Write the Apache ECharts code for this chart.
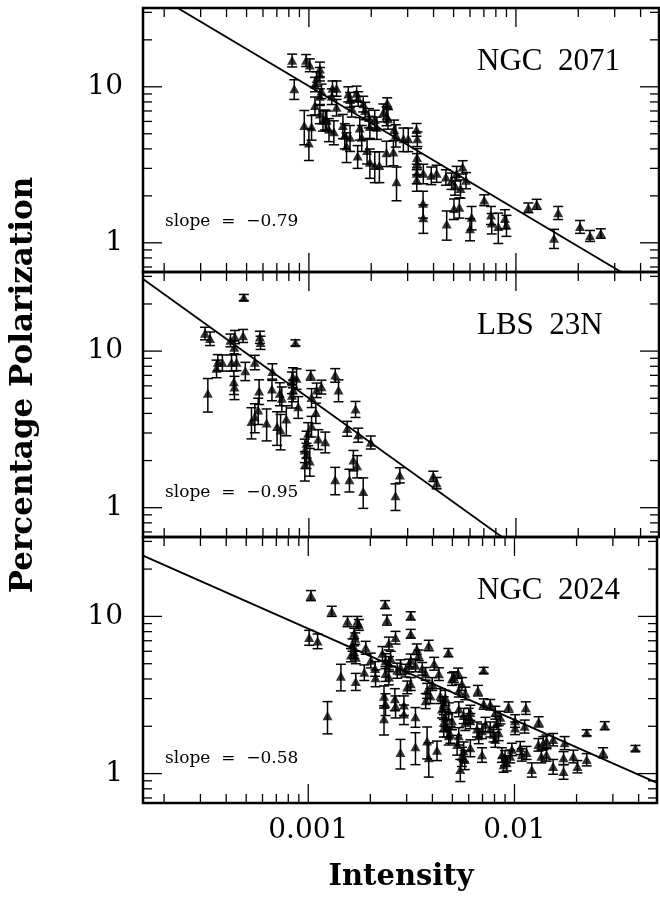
<!DOCTYPE html>
<html>
<head>
<meta charset="utf-8">
<script src="https://cdn.jsdelivr.net/npm/echarts@6/dist/echarts.min.js"></script>
<style>
  html, body { margin: 0; padding: 0; background: #fff; }
  #main { width: 660px; height: 897px; }
</style>
</head>
<body>
<div id="main"></div>
<script>
// [intensity, percentage polarization, error]
const ngc2071 = [
  [0.00083, 14.8, 1.4], [0.00085, 9.7, 1.4], [0.00097, 14.8, 1.3], [0.00101, 13.8, 1.3],
  [0.00113, 13.0, 1.4], [0.00109, 11.3, 1.2], [0.00113, 12.1, 1.2], [0.00107, 10.4, 1.1],
  [0.00115, 9.4, 1.0], [0.00113, 8.7, 1.0], [0.00130, 9.8, 1.1], [0.00136, 9.8, 1.1],
  [0.00129, 8.7, 1.0], [0.00136, 7.4, 0.9], [0.00107, 7.6, 1.0], [0.00113, 6.7, 0.9],
  [0.00120, 6.2, 0.9], [0.00095, 5.65, 1.4], [0.00103, 5.55, 1.0], [0.00100, 4.37, 1.0],
  [0.00117, 6.1, 0.9], [0.00122, 6.1, 0.9], [0.00125, 5.35, 0.9], [0.00132, 5.15, 0.9],
  [0.00146, 5.65, 1.0], [0.00149, 4.9, 0.9], [0.00158, 4.75, 0.9], [0.00152, 4.17, 0.9],
  [0.00155, 9.0, 1.0], [0.00158, 8.3, 0.9], [0.00170, 9.1, 1.0], [0.00173, 8.4, 0.9],
  [0.00161, 7.3, 0.9], [0.00183, 7.8, 0.9], [0.00187, 7.05, 0.9], [0.00176, 5.45, 0.9],
  [0.00180, 4.75, 0.9], [0.00172, 3.6, 0.6], [0.00195, 6.35, 0.9], [0.00197, 5.57, 0.9],
  [0.00208, 6.17, 0.9], [0.00213, 5.5, 0.9], [0.00191, 3.9, 0.7], [0.00197, 3.29, 0.7],
  [0.00208, 3.13, 0.7], [0.00219, 3.13, 0.7], [0.00229, 6.86, 0.9], [0.00237, 6.53, 0.9],
  [0.00239, 7.9, 0.6], [0.00241, 6.25, 0.9], [0.00237, 3.78, 0.7], [0.00256, 3.82, 0.7],
  [0.00265, 2.46, 0.6], [0.00258, 5.32, 0.8], [0.00263, 4.91, 0.8], [0.00286, 4.64, 0.8],
  [0.00302, 4.64, 0.8], [0.00331, 5.32, 0.5], [0.00334, 4.64, 0.5], [0.00333, 3.52, 0.5],
  [0.00333, 3.23, 0.5], [0.00332, 2.79, 0.4], [0.00332, 2.54, 0.4], [0.00357, 2.79, 0.4],
  [0.00390, 2.71, 0.35], [0.00414, 2.79, 0.35], [0.00356, 1.79, 0.35], [0.00357, 1.45, 0.3],
  [0.00463, 1.32, 0.28], [0.00459, 2.64, 0.3], [0.00489, 2.5, 0.3], [0.00508, 2.32, 0.3],
  [0.00540, 2.23, 0.3], [0.00553, 3.06, 0.3], [0.00574, 2.52, 0.3], [0.00517, 2.79, 0.3],
  [0.00502, 1.66, 0.25], [0.00533, 1.69, 0.25], [0.00611, 1.46, 0.25], [0.00600, 1.23, 0.2],
  [0.00703, 1.88, 0.15], [0.00758, 1.51, 0.2], [0.00764, 1.34, 0.2], [0.00822, 1.27, 0.28],
  [0.00885, 1.43, 0.2], [0.00900, 1.30, 0.2], [0.01148, 1.68, 0.12], [0.0126, 1.77, 0.13],
  [0.0160, 1.56, 0.15], [0.01527, 1.07, 0.15], [0.0204, 1.27, 0.12], [0.0228, 1.11, 0.09],
  [0.0257, 1.15, 0.08]
];

const lbs23n = [
  [0.000485, 22.0, 1.0], [0.000315, 13.0, 1.2], [0.000333, 12.05, 1.2], [0.000418, 11.75, 1.1],
  [0.000439, 12.35, 1.2], [0.000481, 12.55, 1.2], [0.000436, 10.6, 1.0], [0.000580, 12.3, 1.1],
  [0.000584, 11.35, 1.1], [0.000861, 11.3, 0.5], [0.000363, 8.5, 1.0], [0.000382, 8.45, 1.0],
  [0.000358, 7.76, 1.0], [0.000423, 8.45, 1.0], [0.000447, 8.5, 1.0], [0.000434, 6.38, 1.1],
  [0.000437, 5.9, 1.0], [0.000493, 7.48, 1.0], [0.000548, 8.5, 0.9], [0.000325, 5.38, 1.3],
  [0.000666, 7.4, 0.9], [0.000663, 5.72, 0.9], [0.000575, 5.56, 1.0], [0.000724, 5.38, 0.9],
  [0.000740, 5.0, 0.9], [0.000837, 6.83, 1.0], [0.000872, 6.7, 1.0], [0.000828, 6.35, 1.0],
  [0.000840, 5.65, 0.9], [0.000828, 5.23, 0.9], [0.00102, 7.03, 0.5], [0.00115, 5.92, 0.6],
  [0.00109, 5.65, 0.6], [0.00103, 5.06, 0.7], [0.00134, 7.03, 0.7], [0.00139, 5.65, 0.9],
  [0.000888, 4.42, 0.7], [0.00108, 4.05, 0.6], [0.000569, 4.2, 0.8], [0.000548, 3.81, 0.8],
  [0.000528, 3.55, 0.8], [0.000625, 3.47, 0.8], [0.000702, 3.3, 0.8], [0.000730, 3.14, 0.8],
  [0.000778, 3.68, 0.8], [0.00103, 3.33, 0.5], [0.000992, 2.99, 0.5], [0.000974, 2.58, 0.5],
  [0.000956, 2.34, 0.4], [0.000974, 2.18, 0.4], [0.00101, 1.99, 0.4], [0.000956, 1.88, 0.4],
  [0.00111, 2.75, 0.4], [0.00120, 2.64, 0.4], [0.00153, 3.21, 0.35], [0.00173, 2.92, 0.3],
  [0.00199, 2.62, 0.25], [0.00168, 4.27, 0.5], [0.00164, 2.02, 0.3], [0.00171, 1.85, 0.3],
  [0.00134, 1.51, 0.3], [0.00157, 1.51, 0.25], [0.00183, 1.27, 0.28], [0.00275, 1.62, 0.18],
  [0.00262, 1.19, 0.23], [0.00399, 1.59, 0.12], [0.00414, 1.44, 0.12]
];

const ngc2024 = [
  [0.00103, 13.6, 1.0], [0.00101, 7.35, 0.8], [0.00111, 6.98, 0.75], [0.00130, 10.8, 0.8],
  [0.00155, 9.3, 0.7], [0.00173, 9.3, 0.7], [0.00176, 8.85, 0.7], [0.00167, 7.8, 0.6],
  [0.00169, 7.25, 0.6], [0.00164, 6.6, 0.6], [0.00167, 5.95, 0.55], [0.00161, 5.69, 0.55],
  [0.00170, 5.5, 0.5], [0.00190, 6.34, 0.6], [0.00187, 4.41, 0.5], [0.00201, 5.27, 0.57],
  [0.00211, 4.66, 0.5], [0.00144, 4.16, 0.8], [0.00170, 3.86, 0.48], [0.00212, 4.07, 0.5],
  [0.00124, 2.33, 0.54], [0.00236, 11.9, 0.7], [0.00241, 9.5, 0.7], [0.00314, 10.1, 0.6],
  [0.00314, 7.77, 0.5], [0.00229, 5.83, 0.6], [0.00237, 5.22, 0.57], [0.00246, 5.0, 0.55],
  [0.00251, 5.41, 0.59], [0.00265, 7.35, 0.68], [0.00246, 6.75, 0.63], [0.00237, 4.33, 0.47],
  [0.00246, 4.12, 0.45], [0.00270, 4.54, 0.5], [0.00280, 4.77, 0.52], [0.00233, 3.11, 0.5],
  [0.00237, 2.78, 0.44], [0.00233, 2.23, 0.47], [0.00263, 2.99, 0.48], [0.00265, 2.69, 0.43],
  [0.00291, 2.73, 0.39], [0.00291, 2.39, 0.34], [0.00331, 2.30, 0.33], [0.00280, 1.36, 0.29],
  [0.00331, 1.48, 0.34], [0.00377, 1.61, 0.37], [0.00384, 1.26, 0.31], [0.00421, 1.41, 0.2],
  [0.00314, 5.27, 0.49], [0.00308, 4.89, 0.45], [0.00296, 4.54, 0.42], [0.00336, 6.2, 0.48],
  [0.00343, 5.67, 0.44], [0.00384, 6.55, 0.5], [0.00331, 4.89, 0.45], [0.00357, 4.66, 0.43],
  [0.00371, 4.33, 0.4], [0.00408, 5.02, 0.47], [0.00430, 4.31, 0.4], [0.00377, 3.38, 0.37],
  [0.00391, 3.13, 0.34], [0.00371, 2.91, 0.32], [0.00478, 5.89, 0.36], [0.00498, 4.01, 0.37],
  [0.00437, 3.13, 0.34], [0.00462, 3.05, 0.33], [0.00454, 2.78, 0.3], [0.00480, 2.51, 0.31],
  [0.00462, 2.28, 0.29], [0.00498, 2.17, 0.27], [0.00471, 1.96, 0.25], [0.00489, 1.78, 0.22],
  [0.00454, 1.96, 0.25], [0.00302, 3.55, 0.33], [0.00314, 3.73, 0.35], [0.00533, 4.36, 0.33],
  [0.00508, 4.12, 0.32], [0.00556, 3.73, 0.35], [0.00537, 3.38, 0.31], [0.00578, 3.25, 0.3],
  [0.00665, 3.38, 0.26], [0.00709, 4.54, 0.2], [0.00709, 2.78, 0.21], [0.00763, 2.75, 0.21],
  [0.00936, 2.66, 0.2], [0.01135, 2.62, 0.24], [0.00807, 2.45, 0.23], [0.00854, 2.28, 0.21],
  [0.00821, 2.11, 0.2], [0.01007, 2.17, 0.2], [0.01007, 1.95, 0.18], [0.0112, 2.0, 0.19],
  [0.0131, 2.14, 0.16], [0.0224, 1.82, 0.08], [0.0274, 2.02, 0.12], [0.00537, 2.58, 0.28],
  [0.00567, 2.34, 0.26], [0.00600, 2.34, 0.26], [0.00611, 2.17, 0.24], [0.00578, 2.11, 0.23],
  [0.00537, 1.74, 0.22], [0.00527, 1.53, 0.22], [0.00567, 1.39, 0.2], [0.00556, 1.29, 0.18],
  [0.00611, 1.46, 0.18], [0.00546, 1.06, 0.17], [0.00696, 1.87, 0.2], [0.00658, 1.92, 0.21],
  [0.00671, 1.74, 0.19], [0.00696, 1.32, 0.14], [0.00763, 1.92, 0.21], [0.00792, 1.78, 0.19],
  [0.00807, 1.65, 0.18], [0.00869, 1.32, 0.14], [0.00900, 1.26, 0.14], [0.00917, 1.17, 0.13],
  [0.00885, 1.14, 0.12], [0.00971, 1.43, 0.13], [0.00953, 1.29, 0.12], [0.01067, 1.46, 0.14],
  [0.01085, 1.32, 0.12], [0.01145, 1.36, 0.13], [0.01213, 1.06, 0.11], [0.01306, 1.53, 0.14],
  [0.0138, 1.57, 0.15], [0.0143, 1.61, 0.15], [0.0154, 1.65, 0.15], [0.0135, 1.29, 0.12],
  [0.0143, 1.32, 0.12], [0.0154, 1.11, 0.12], [0.0175, 1.57, 0.15], [0.0173, 1.26, 0.12],
  [0.0173, 1.03, 0.11], [0.0193, 1.29, 0.12], [0.0202, 1.11, 0.1], [0.0224, 1.23, 0.11],
  [0.0269, 1.36, 0.1], [0.0386, 1.45, 0.06], [0.00723, 2.06, 0.22], [0.00838, 1.82, 0.2],
  [0.00445, 2.58, 0.32], [0.00611, 2.45, 0.27], [0.00454, 2.11, 0.26], [0.00480, 1.74, 0.22],
  [0.00574, 1.23, 0.17], [0.00399, 3.73, 0.35]
];

const panelNames = ['NGC  2071', 'LBS  23N', 'NGC  2024'];
const fitSlopes = [-0.79, -0.95, -0.58];
const fitAt001 = [10.1, 5.0, 8.35];

const xMajorTicks = [0.001, 0.01];
const xMinorTicks = [0.0002, 0.0003, 0.0004, 0.0005, 0.0006, 0.0007, 0.0008, 0.0009,
  0.002, 0.003, 0.004, 0.005, 0.006, 0.007, 0.008, 0.009, 0.02, 0.03, 0.04];
const yMajorTicks = [1, 10];
const yMinorTicks = [0.7, 0.8, 0.9, 2, 3, 4, 5, 6, 7, 8, 9, 20, 30];
const xRange = [0.000158, 0.0491];
const yRange = [0.65, 32];

const panels = [ngc2071, lbs23n, ngc2024];
const grids = [
  { left: 143, top: 8, width: 516, height: 264 },
  { left: 143, top: 272, width: 516, height: 265 },
  { left: 143, top: 537, width: 516, height: 266 }
];

function tickLabel(v, list) {
  for (const t of list) {
    if (Math.abs(v / t - 1) < 1e-6) return String(t);
  }
  return '';
}

// kind: 0 x minor, 1 x major, 2 y minor, 3 y major
const tickData = [].concat(
  xMinorTicks.map(v => [v, 1, 0]),
  xMajorTicks.map(v => [v, 1, 1]),
  yMinorTicks.map(v => [0.001, v, 2]),
  yMajorTicks.map(v => [0.001, v, 3])
);

function renderTicks(params, api) {
  const cs = params.coordSys;
  const kind = api.value(2);
  const len = (kind === 1 || kind === 3) ? 19 : 9;
  const style = { stroke: '#000', lineWidth: 1.3 };
  const pt = api.coord([api.value(0), api.value(1)]);
  if (kind < 2) {
    const px = pt[0];
    return { type: 'group', children: [
      { type: 'line', shape: { x1: px, y1: cs.y, x2: px, y2: cs.y + len }, style: style },
      { type: 'line', shape: { x1: px, y1: cs.y + cs.height, x2: px, y2: cs.y + cs.height - len }, style: style }
    ] };
  }
  const py = pt[1];
  return { type: 'group', children: [
    { type: 'line', shape: { x1: cs.x, y1: py, x2: cs.x + len, y2: py }, style: style },
    { type: 'line', shape: { x1: cs.x + cs.width, y1: py, x2: cs.x + cs.width - len, y2: py }, style: style }
  ] };
}

function renderErr(params, api) {
  const x = api.value(0), p = api.value(1), e = api.value(2);
  const hi = api.coord([x, p + e]);
  const lo = api.coord([x, p - e]);
  const w = 5;
  const style = { stroke: '#000', lineWidth: 1.5 };
  return { type: 'group', children: [
    { type: 'line', shape: { x1: hi[0], y1: hi[1], x2: lo[0], y2: lo[1] }, style: style },
    { type: 'line', shape: { x1: hi[0] - w, y1: hi[1], x2: hi[0] + w, y2: hi[1] }, style: style },
    { type: 'line', shape: { x1: lo[0] - w, y1: lo[1], x2: lo[0] + w, y2: lo[1] }, style: style }
  ] };
}

const series = [];
panels.forEach((pts, i) => {
  series.push({
    type: 'custom', xAxisIndex: i, yAxisIndex: i, renderItem: renderTicks,
    data: tickData, encode: { x: 0, y: 1 }, silent: true, z: 1
  });
  series.push({
    type: 'line', xAxisIndex: i, yAxisIndex: i, showSymbol: false, clip: true,
    lineStyle: { color: '#000', width: 1.8 },
    data: xRange.map(x => [x, fitAt001[i] * Math.pow(x / 0.001, fitSlopes[i])]),
    z: 2
  });
  series.push({
    type: 'custom', xAxisIndex: i, yAxisIndex: i, renderItem: renderErr,
    data: pts, encode: { x: 0, y: 1 }, z: 3
  });
  series.push({
    type: 'scatter', xAxisIndex: i, yAxisIndex: i, symbol: 'triangle', symbolSize: [10, 9],
    itemStyle: { color: '#000' }, data: pts.map(d => [d[0], d[1]]), z: 4
  });
});

const graphic = [];
const nameY = [62, 326, 591];
const slopeY = [222, 493, 759];
panelNames.forEach((name, i) => {
  graphic.push({
    type: 'text', x: 477, y: nameY[i],
    style: { text: name, font: '31px "Liberation Serif"', fill: '#000', textAlign: 'left', textVerticalAlign: 'middle' }
  });
  graphic.push({
    type: 'text', x: 165, y: slopeY[i],
    style: { text: 'slope  =  \u2212' + Math.abs(fitSlopes[i]).toFixed(2), font: '17px "DejaVu Serif"', fill: '#000', textAlign: 'left', textVerticalAlign: 'middle' }
  });
});
graphic.push({
  type: 'text', x: 401, y: 877,
  style: { text: 'Intensity', font: 'bold 29px "DejaVu Serif"', fill: '#000', textAlign: 'center', textVerticalAlign: 'middle' }
});
graphic.push({
  type: 'text', x: 24, y: 385, rotation: Math.PI / 2,
  style: { text: 'Percentage Polarization', font: 'bold 31px "DejaVu Serif"', fill: '#000', textAlign: 'center', textVerticalAlign: 'middle' }
});

const chart = echarts.init(document.getElementById('main'));
chart.setOption({
  animation: false,
  backgroundColor: '#fff',
  grid: grids.map(g => Object.assign({ show: true, borderColor: '#000', borderWidth: 2.5, backgroundColor: 'transparent', containLabel: false }, g)),
  xAxis: grids.map((g, i) => ({
    type: 'log', logBase: 10, gridIndex: i, min: xRange[0], max: xRange[1],
    axisLine: { show: false }, axisTick: { show: false }, splitLine: { show: false },
    axisLabel: {
      show: i === 2, margin: 14, color: '#000', fontFamily: 'DejaVu Serif', fontSize: 28,
      formatter: v => tickLabel(v, xMajorTicks)
    }
  })),
  yAxis: grids.map((g, i) => ({
    type: 'log', logBase: 10, gridIndex: i, min: yRange[0], max: yRange[1],
    axisLine: { show: false }, axisTick: { show: false }, splitLine: { show: false },
    axisLabel: {
      margin: 20, color: '#000', fontFamily: 'DejaVu Serif', fontSize: 28,
      formatter: v => tickLabel(v, yMajorTicks)
    }
  })),
  graphic: graphic,
  series: series
});
</script>
</body>
</html>
